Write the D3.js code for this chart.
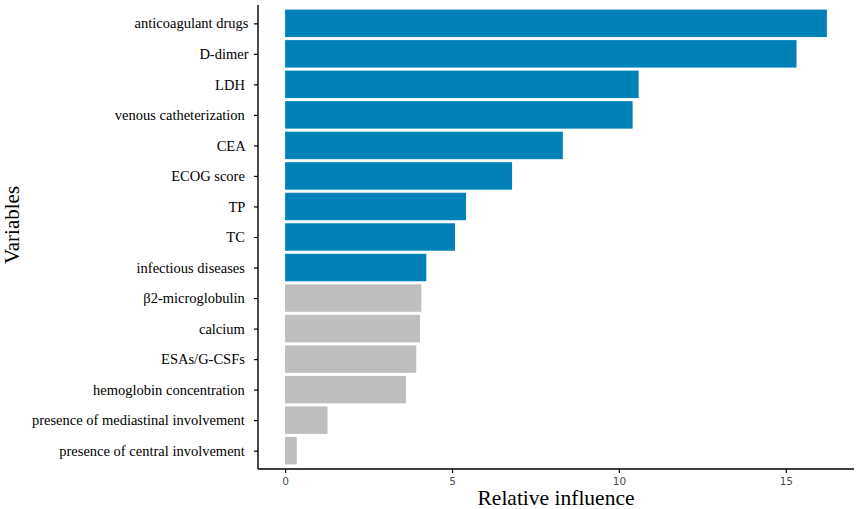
<!DOCTYPE html>
<html lang="en">
<head>
<meta charset="UTF-8">
<title>Relative influence</title>
<style>
  body { margin: 0; background: #fff; }
  svg text { white-space: pre; }
</style>
</head>
<body>
<svg id="chart" width="858" height="509"></svg>
<script src="https://d3js.org/d3.v7.min.js"></script>
<script>
// values
const variables = [
  "anticoagulant drugs", "D-dimer", "LDH ", "venous catheterization ", "CEA ",
  "ECOG score ", "TP ", "TC ", "infectious diseases ", "\u03b22-microglobulin ",
  "calcium ", "ESAs/G-CSFs ", "hemoglobin concentration ",
  "presence of mediastinal involvement ", "presence of central involvement "
];
const influence = [16.23, 15.32, 10.59, 10.41, 8.32, 6.80, 5.42, 5.09, 4.23,
                   4.08, 4.04, 3.93, 3.62, 1.27, 0.35];
const group = ["key","key","key","key","key","key","key","key","key",
               "other","other","other","other","other","other"];
const xTicks = [0, 5, 10, 15];

const svg = d3.select("#chart");
const mLeft = 258, mRight = 854, mTop = 5, mBottom = 469;

const maxV = d3.max(influence);
const pad = maxV * 0.05;
const x = d3.scaleLinear().domain([-pad, maxV + pad]).range([mLeft, mRight]);

// ggplot-ish discrete expansion: 0.6 band each side
const n = variables.length;
const step = (mBottom - mTop) / (n - 1 + 1.2);
const y = d3.scalePoint().domain(variables)
  .range([mTop + 0.6 * step, mBottom - 0.6 * step]);
const barH = step * 0.9;

const color = d3.scaleOrdinal().domain(["key","other"]).range(["#0082b8", "#bebebe"]);

svg.selectAll("rect.bar")
  .data(variables)
  .join("rect")
    .attr("class", "bar")
    .attr("x", x(0))
    .attr("y", d => y(d) - barH / 2)
    .attr("width", (d, i) => x(influence[i]) - x(0))
    .attr("height", barH)
    .attr("fill", (d, i) => color(group[i]));

// y axis
const yAxis = svg.append("g")
  .attr("transform", `translate(${mLeft},0)`)
  .call(d3.axisLeft(y).tickSize(4).tickPadding(5.5).tickSizeOuter(0));
yAxis.select(".domain").attr("d", `M0,${mTop}V${mBottom}`).attr("stroke", "#000").attr("stroke-width", 1.4);
yAxis.selectAll(".tick line").attr("stroke", "#000").attr("stroke-width", 1.2);
yAxis.selectAll(".tick text")
  .attr("fill", "#000")
  .style("font-family", "'Liberation Serif', 'Times New Roman', serif")
  .style("font-size", "14.5px");

// x axis
const xAxis = svg.append("g")
  .attr("transform", `translate(0,${mBottom})`)
  .call(d3.axisBottom(x).tickValues(xTicks).tickSize(4).tickPadding(4.5).tickSizeOuter(0));
xAxis.select(".domain").attr("d", `M${mLeft},0H${mRight}`).attr("stroke", "#000").attr("stroke-width", 1.4);
xAxis.selectAll(".tick line").attr("stroke", "#000").attr("stroke-width", 1.2);
xAxis.selectAll(".tick text")
  .attr("fill", "#4d4d4d")
  .style("font-family", "'DejaVu Sans', sans-serif")
  .style("font-size", "10.5px");

// axis titles
svg.append("text")
  .attr("x", (mLeft + mRight) / 2)
  .attr("y", 505)
  .attr("text-anchor", "middle")
  .style("font-family", "'Liberation Serif', 'Times New Roman', serif")
  .style("font-size", "21.5px")
  .text("Relative influence");

svg.append("text")
  .attr("transform", "translate(18.5,225) rotate(-90)")
  .attr("text-anchor", "middle")
  .style("font-family", "'Liberation Serif', 'Times New Roman', serif")
  .style("font-size", "21px")
  .text("Variables");
</script>
</body>
</html>
